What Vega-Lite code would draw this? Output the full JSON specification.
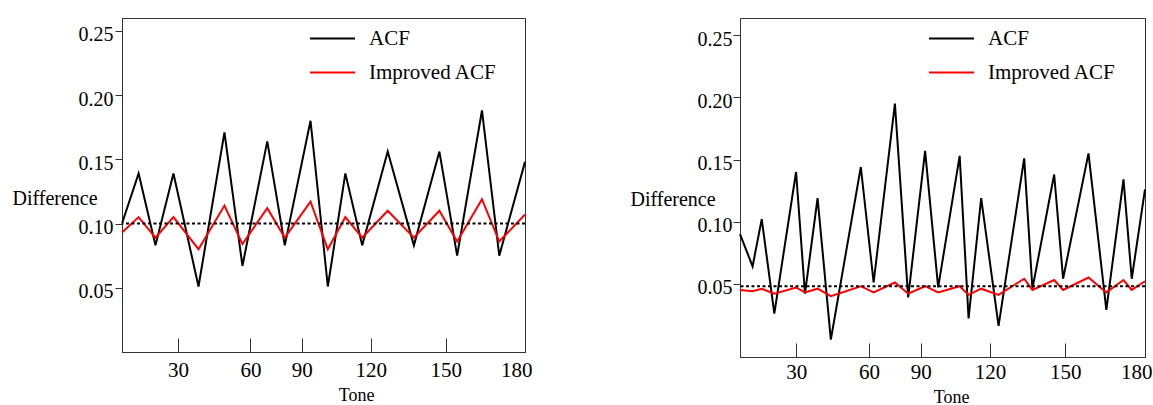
{
  "$schema": "https://vega.github.io/schema/vega-lite/v6.json",
  "padding": {"left": 11, "top": 14, "right": 0, "bottom": 0},
  "background": "white",
  "datasets": {
    "leftData": [
      {"tone": 7, "value": 0.100, "series": "ACF"},
      {"tone": 14.3, "value": 0.139, "series": "ACF"},
      {"tone": 21.7, "value": 0.083, "series": "ACF"},
      {"tone": 29.6, "value": 0.139, "series": "ACF"},
      {"tone": 40.6, "value": 0.051, "series": "ACF"},
      {"tone": 52.0, "value": 0.171, "series": "ACF"},
      {"tone": 59.9, "value": 0.067, "series": "ACF"},
      {"tone": 70.8, "value": 0.164, "series": "ACF"},
      {"tone": 78.5, "value": 0.083, "series": "ACF"},
      {"tone": 89.8, "value": 0.180, "series": "ACF"},
      {"tone": 97.4, "value": 0.051, "series": "ACF"},
      {"tone": 105.1, "value": 0.139, "series": "ACF"},
      {"tone": 112.5, "value": 0.083, "series": "ACF"},
      {"tone": 123.7, "value": 0.156, "series": "ACF"},
      {"tone": 135.2, "value": 0.083, "series": "ACF"},
      {"tone": 146.4, "value": 0.156, "series": "ACF"},
      {"tone": 154.2, "value": 0.075, "series": "ACF"},
      {"tone": 165.1, "value": 0.188, "series": "ACF"},
      {"tone": 172.7, "value": 0.075, "series": "ACF"},
      {"tone": 184, "value": 0.148, "series": "ACF"},
      {"tone": 7, "value": 0.093, "series": "Improved ACF"},
      {"tone": 14.3, "value": 0.105, "series": "Improved ACF"},
      {"tone": 21.7, "value": 0.089, "series": "Improved ACF"},
      {"tone": 29.6, "value": 0.105, "series": "Improved ACF"},
      {"tone": 40.6, "value": 0.080, "series": "Improved ACF"},
      {"tone": 52.0, "value": 0.114, "series": "Improved ACF"},
      {"tone": 59.9, "value": 0.084, "series": "Improved ACF"},
      {"tone": 70.8, "value": 0.112, "series": "Improved ACF"},
      {"tone": 78.5, "value": 0.089, "series": "Improved ACF"},
      {"tone": 89.8, "value": 0.117, "series": "Improved ACF"},
      {"tone": 97.4, "value": 0.080, "series": "Improved ACF"},
      {"tone": 105.1, "value": 0.105, "series": "Improved ACF"},
      {"tone": 112.5, "value": 0.089, "series": "Improved ACF"},
      {"tone": 123.7, "value": 0.110, "series": "Improved ACF"},
      {"tone": 135.2, "value": 0.089, "series": "Improved ACF"},
      {"tone": 146.4, "value": 0.110, "series": "Improved ACF"},
      {"tone": 154.2, "value": 0.086, "series": "Improved ACF"},
      {"tone": 165.1, "value": 0.119, "series": "Improved ACF"},
      {"tone": 172.7, "value": 0.086, "series": "Improved ACF"},
      {"tone": 184, "value": 0.107, "series": "Improved ACF"}
    ],
    "rightData": [
      {"tone": 7, "value": 0.090, "series": "ACF"},
      {"tone": 12.5, "value": 0.064, "series": "ACF"},
      {"tone": 16.5, "value": 0.102, "series": "ACF"},
      {"tone": 22.0, "value": 0.026, "series": "ACF"},
      {"tone": 31.5, "value": 0.140, "series": "ACF"},
      {"tone": 35.4, "value": 0.042, "series": "ACF"},
      {"tone": 40.9, "value": 0.119, "series": "ACF"},
      {"tone": 46.7, "value": 0.005, "series": "ACF"},
      {"tone": 59.8, "value": 0.144, "series": "ACF"},
      {"tone": 65.4, "value": 0.051, "series": "ACF"},
      {"tone": 74.7, "value": 0.195, "series": "ACF"},
      {"tone": 80.5, "value": 0.039, "series": "ACF"},
      {"tone": 87.9, "value": 0.157, "series": "ACF"},
      {"tone": 93.6, "value": 0.047, "series": "ACF"},
      {"tone": 103.0, "value": 0.153, "series": "ACF"},
      {"tone": 106.9, "value": 0.022, "series": "ACF"},
      {"tone": 112.4, "value": 0.119, "series": "ACF"},
      {"tone": 120.0, "value": 0.016, "series": "ACF"},
      {"tone": 131.2, "value": 0.151, "series": "ACF"},
      {"tone": 134.8, "value": 0.046, "series": "ACF"},
      {"tone": 144.3, "value": 0.138, "series": "ACF"},
      {"tone": 148.2, "value": 0.054, "series": "ACF"},
      {"tone": 159.3, "value": 0.155, "series": "ACF"},
      {"tone": 167.1, "value": 0.029, "series": "ACF"},
      {"tone": 174.6, "value": 0.134, "series": "ACF"},
      {"tone": 178.2, "value": 0.054, "series": "ACF"},
      {"tone": 184, "value": 0.126, "series": "ACF"},
      {"tone": 7, "value": 0.045, "series": "Improved ACF"},
      {"tone": 12.5, "value": 0.044, "series": "Improved ACF"},
      {"tone": 16.5, "value": 0.046, "series": "Improved ACF"},
      {"tone": 22.0, "value": 0.042, "series": "Improved ACF"},
      {"tone": 31.5, "value": 0.047, "series": "Improved ACF"},
      {"tone": 35.4, "value": 0.043, "series": "Improved ACF"},
      {"tone": 40.9, "value": 0.046, "series": "Improved ACF"},
      {"tone": 46.7, "value": 0.040, "series": "Improved ACF"},
      {"tone": 59.8, "value": 0.048, "series": "Improved ACF"},
      {"tone": 65.4, "value": 0.043, "series": "Improved ACF"},
      {"tone": 74.7, "value": 0.051, "series": "Improved ACF"},
      {"tone": 80.5, "value": 0.042, "series": "Improved ACF"},
      {"tone": 87.9, "value": 0.048, "series": "Improved ACF"},
      {"tone": 93.6, "value": 0.043, "series": "Improved ACF"},
      {"tone": 103.0, "value": 0.048, "series": "Improved ACF"},
      {"tone": 106.9, "value": 0.041, "series": "Improved ACF"},
      {"tone": 112.4, "value": 0.046, "series": "Improved ACF"},
      {"tone": 120.0, "value": 0.041, "series": "Improved ACF"},
      {"tone": 131.2, "value": 0.054, "series": "Improved ACF"},
      {"tone": 134.8, "value": 0.045, "series": "Improved ACF"},
      {"tone": 144.3, "value": 0.053, "series": "Improved ACF"},
      {"tone": 148.2, "value": 0.045, "series": "Improved ACF"},
      {"tone": 159.3, "value": 0.055, "series": "Improved ACF"},
      {"tone": 167.1, "value": 0.043, "series": "Improved ACF"},
      {"tone": 174.6, "value": 0.053, "series": "Improved ACF"},
      {"tone": 178.2, "value": 0.045, "series": "Improved ACF"},
      {"tone": 184, "value": 0.052, "series": "Improved ACF"}
    ],
    "leftThreshold": [{"value": 0.1}],
    "rightThreshold": [{"value": 0.048}]
  },
  "spacing": 96,
  "resolve": {"legend": {"color": "independent"}, "scale": {"y": "independent"}},
  "hconcat": [
    {
      "width": 403,
      "height": 334,
      "layer": [
        {
          "data": {"name": "leftData"},
          "mark": {"type": "line", "strokeWidth": 2},
          "encoding": {
            "x": {
              "field": "tone", "type": "quantitative",
              "scale": {"domain": [7, 184], "nice": false, "zero": false},
              "axis": {"values": [31.6, 63.4, 86, 116.3, 149.2, 184], "labelExpr": "format(round(datum.value/30)*30, 'd')", "labelFontSize": 21, "tickSize": -14, "labelPadding": 21, "labelFlush": true, "labelFlushOffset": 7, "title": "Tone", "titleFontSize": 18, "titleX": 234, "titleY": 43, "titleBaseline": "middle", "titleAlign": "center"}
            },
            "y": {
              "field": "value", "type": "quantitative",
              "scale": {"domain": [0, 0.26], "nice": false, "zero": false},
              "axis": {"values": [0.05, 0.1, 0.15, 0.2, 0.25], "format": ".2f", "labelFontSize": 20, "tickSize": 7, "labelPadding": 2, "labelOffset": 4, "title": "Difference", "titleFontSize": 20, "titleAngle": 0, "titleAlign": "left", "titleBaseline": "middle", "titleX": -110, "titleY": 180}
            },
            "color": {
              "field": "series", "type": "nominal",
              "scale": {"domain": ["ACF", "Improved ACF"], "range": ["#000000", "#ff0000"]},
              "legend": {"orient": "none", "legendX": 187, "legendY": -3, "title": null, "symbolType": "stroke", "symbolSize": 2025, "symbolStrokeWidth": 2, "labelFontSize": 21, "labelOffset": 13, "rowPadding": -5, "padding": 0, "labelExpr": "datum.label == 'ACF' ? '\u00a0\u00a0ACF' : datum.label"}
            }
          }
        },
        {
          "data": {"name": "leftThreshold"},
          "mark": {"type": "rule", "strokeDash": [3, 2.5], "strokeWidth": 2, "color": "#000000"},
          "encoding": {"y": {"field": "value", "type": "quantitative"}}
        }
      ]
    },
    {
      "width": 405,
      "height": 339,
      "layer": [
        {
          "data": {"name": "rightData"},
          "mark": {"type": "line", "strokeWidth": 2},
          "encoding": {
            "x": {
              "field": "tone", "type": "quantitative",
              "scale": {"domain": [7, 184], "nice": false, "zero": false},
              "axis": {"values": [31.6, 63.4, 86, 116.3, 149.2, 184], "labelExpr": "format(round(datum.value/30)*30, 'd')", "labelFontSize": 21, "tickSize": -14, "labelPadding": 18, "labelFlush": true, "labelFlushOffset": 7, "title": "Tone", "titleFontSize": 18, "titleX": 211, "titleY": 40, "titleBaseline": "middle", "titleAlign": "center"}
            },
            "y": {
              "field": "value", "type": "quantitative",
              "scale": {"domain": [-0.009, 0.264], "nice": false, "zero": false},
              "axis": {"values": [0.05, 0.1, 0.15, 0.2, 0.25], "format": ".2f", "labelFontSize": 20, "tickSize": 7, "labelPadding": 1, "labelOffset": 4, "title": "Difference", "titleFontSize": 20, "titleAngle": 0, "titleAlign": "left", "titleBaseline": "middle", "titleX": -110, "titleY": 181}
            },
            "color": {
              "field": "series", "type": "nominal",
              "scale": {"domain": ["ACF", "Improved ACF"], "range": ["#000000", "#ff0000"]},
              "legend": {"orient": "none", "legendX": 188, "legendY": -3, "title": null, "symbolType": "stroke", "symbolSize": 2025, "symbolStrokeWidth": 2, "labelFontSize": 21, "labelOffset": 13, "rowPadding": -2, "padding": 0, "labelExpr": "datum.label == 'ACF' ? '\u00a0\u00a0ACF' : datum.label"}
            }
          }
        },
        {
          "data": {"name": "rightThreshold"},
          "mark": {"type": "rule", "strokeDash": [3, 2.5], "strokeWidth": 2, "color": "#000000"},
          "encoding": {"y": {"field": "value", "type": "quantitative"}}
        }
      ]
    }
  ],
  "config": {
    "font": "Liberation Serif",
    "view": {"stroke": "#333333", "strokeWidth": 1},
    "axis": {"grid": false, "labelFont": "Liberation Serif", "titleFont": "Liberation Serif", "labelColor": "#000000", "titleColor": "#000000", "domainColor": "#333333", "tickColor": "#333333", "titleFontWeight": "normal"},
    "legend": {"labelFont": "Liberation Serif", "labelColor": "#000000"}
  }
}
